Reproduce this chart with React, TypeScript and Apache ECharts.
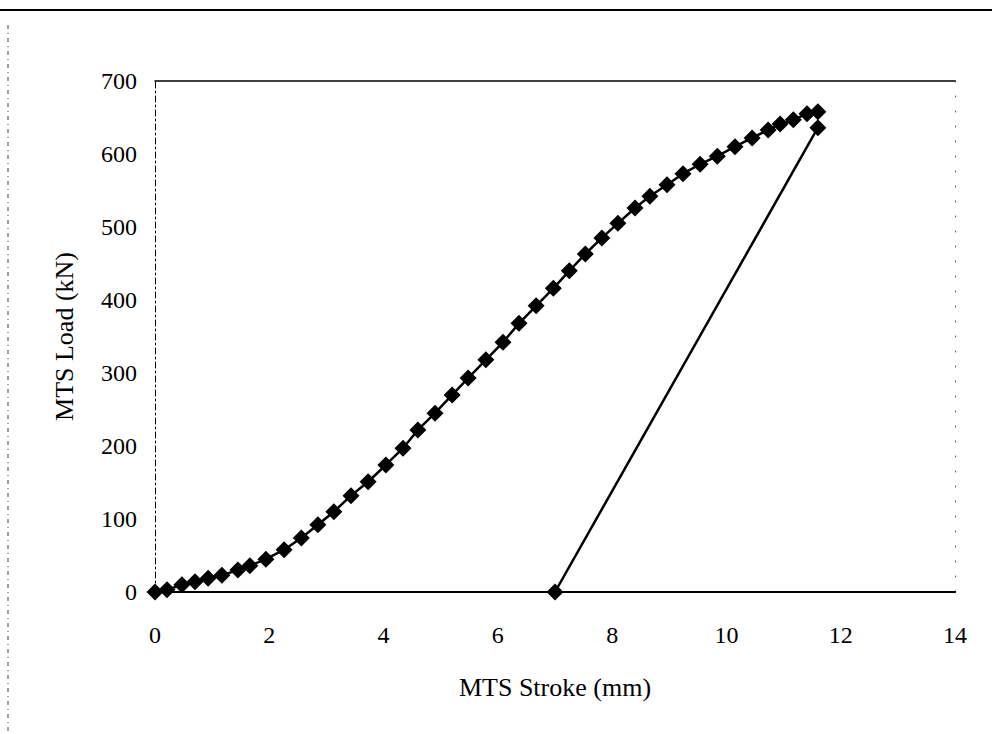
import React, { useEffect, useRef } from "react";
import * as echarts from "echarts";

const loadStroke = [0, 0.21, 0.47, 0.7, 0.93, 1.17, 1.45, 1.66, 1.94, 2.26, 2.56, 2.85, 3.13, 3.43, 3.73, 4.04, 4.34, 4.6, 4.9, 5.2, 5.48, 5.79, 6.09, 6.37, 6.67, 6.97, 7.25, 7.53, 7.82, 8.1, 8.4, 8.66, 8.96, 9.24, 9.54, 9.84, 10.15, 10.45, 10.73, 10.94, 11.17, 11.41, 11.6];
const loadForce = [0, 3, 10, 14, 19, 23, 30, 36, 45, 58, 74, 92, 110, 132, 151, 174, 197, 222, 245, 270, 293, 318, 342, 368, 392, 416, 440, 463, 485, 505, 526, 542, 558, 573, 586, 597, 610, 622, 633, 641, 647, 655, 658];
const unloadStroke = [11.6, 7.0];
const unloadForce = [636, 0];
const xTicks = { min: 0, max: 14, interval: 2 };
const yTicks = { min: 0, max: 700, interval: 100 };

const FONT = "'Liberation Serif', 'Times New Roman', serif";

export default function App() {
  const ref = useRef<HTMLDivElement>(null);
  useEffect(() => {
    if (!ref.current) return;
    const chart = echarts.init(ref.current, null, { renderer: "svg" });
    const loading = loadStroke.map((x, i) => [x, loadForce[i]]);
    const unloading = unloadStroke.map((x, i) => [x, unloadForce[i]]);
    chart.setOption({
      animation: false,
      backgroundColor: "#ffffff",
      grid: { left: 155, right: 37, top: 81, bottom: 142 },
      xAxis: [
        {
          type: "value",
          ...xTicks,
          name: "MTS Stroke (mm)",
          nameLocation: "middle",
          nameGap: 82,
          nameTextStyle: { fontFamily: FONT, fontSize: 26, color: "#000" },
          axisLine: { show: true, onZero: false, lineStyle: { color: "#000", width: 2 } },
          axisTick: { show: false },
          splitLine: { show: false },
          axisLabel: { fontFamily: FONT, fontSize: 24, color: "#000", margin: 31 },
        },
        {
          type: "value",
          position: "top",
          ...xTicks,
          axisLine: { show: true, onZero: false, lineStyle: { color: "#000", width: 1.5 } },
          axisTick: { show: false },
          axisLabel: { show: false },
          splitLine: { show: false },
        },
      ],
      yAxis: [
        {
          type: "value",
          ...yTicks,
          name: "MTS Load (kN)",
          nameLocation: "middle",
          nameGap: 78,
          nameRotate: 90,
          nameTextStyle: { fontFamily: FONT, fontSize: 26, color: "#000" },
          axisLine: { show: true, onZero: false, lineStyle: { color: "#000", width: 1, type: [6, 3, 2, 3] } },
          axisTick: { show: false },
          splitLine: { show: false },
          axisLabel: { fontFamily: FONT, fontSize: 24, color: "#000", margin: 18 },
        },
        {
          type: "value",
          position: "right",
          ...yTicks,
          axisLine: { show: true, onZero: false, lineStyle: { color: "#555", width: 1, type: [1, 14] } },
          axisTick: { show: false },
          axisLabel: { show: false },
          splitLine: { show: false },
        },
      ],
      graphic: [
        { type: "line", shape: { x1: 0, y1: 10, x2: 992, y2: 10 }, style: { stroke: "#000", lineWidth: 2 } },
        { type: "line", shape: { x1: 8, y1: 25, x2: 8, y2: 734 }, style: { stroke: "#444", lineWidth: 1, lineDash: [4, 4, 1, 4] } },
      ],
      series: [
        {
          type: "line",
          data: loading,
          symbol: "diamond",
          symbolSize: 17,
          showAllSymbol: true,
          lineStyle: { color: "#000", width: 2.5 },
          itemStyle: { color: "#000" },
        },
        {
          type: "line",
          data: unloading,
          symbol: "diamond",
          symbolSize: 17,
          lineStyle: { color: "#000", width: 2.5 },
          itemStyle: { color: "#000" },
        },
      ],
    });
    return () => chart.dispose();
  }, []);
  return (
    <div
      ref={ref}
      style={{ position: "fixed", left: 0, top: 0, width: 992, height: 734 }}
    />
  );
}
